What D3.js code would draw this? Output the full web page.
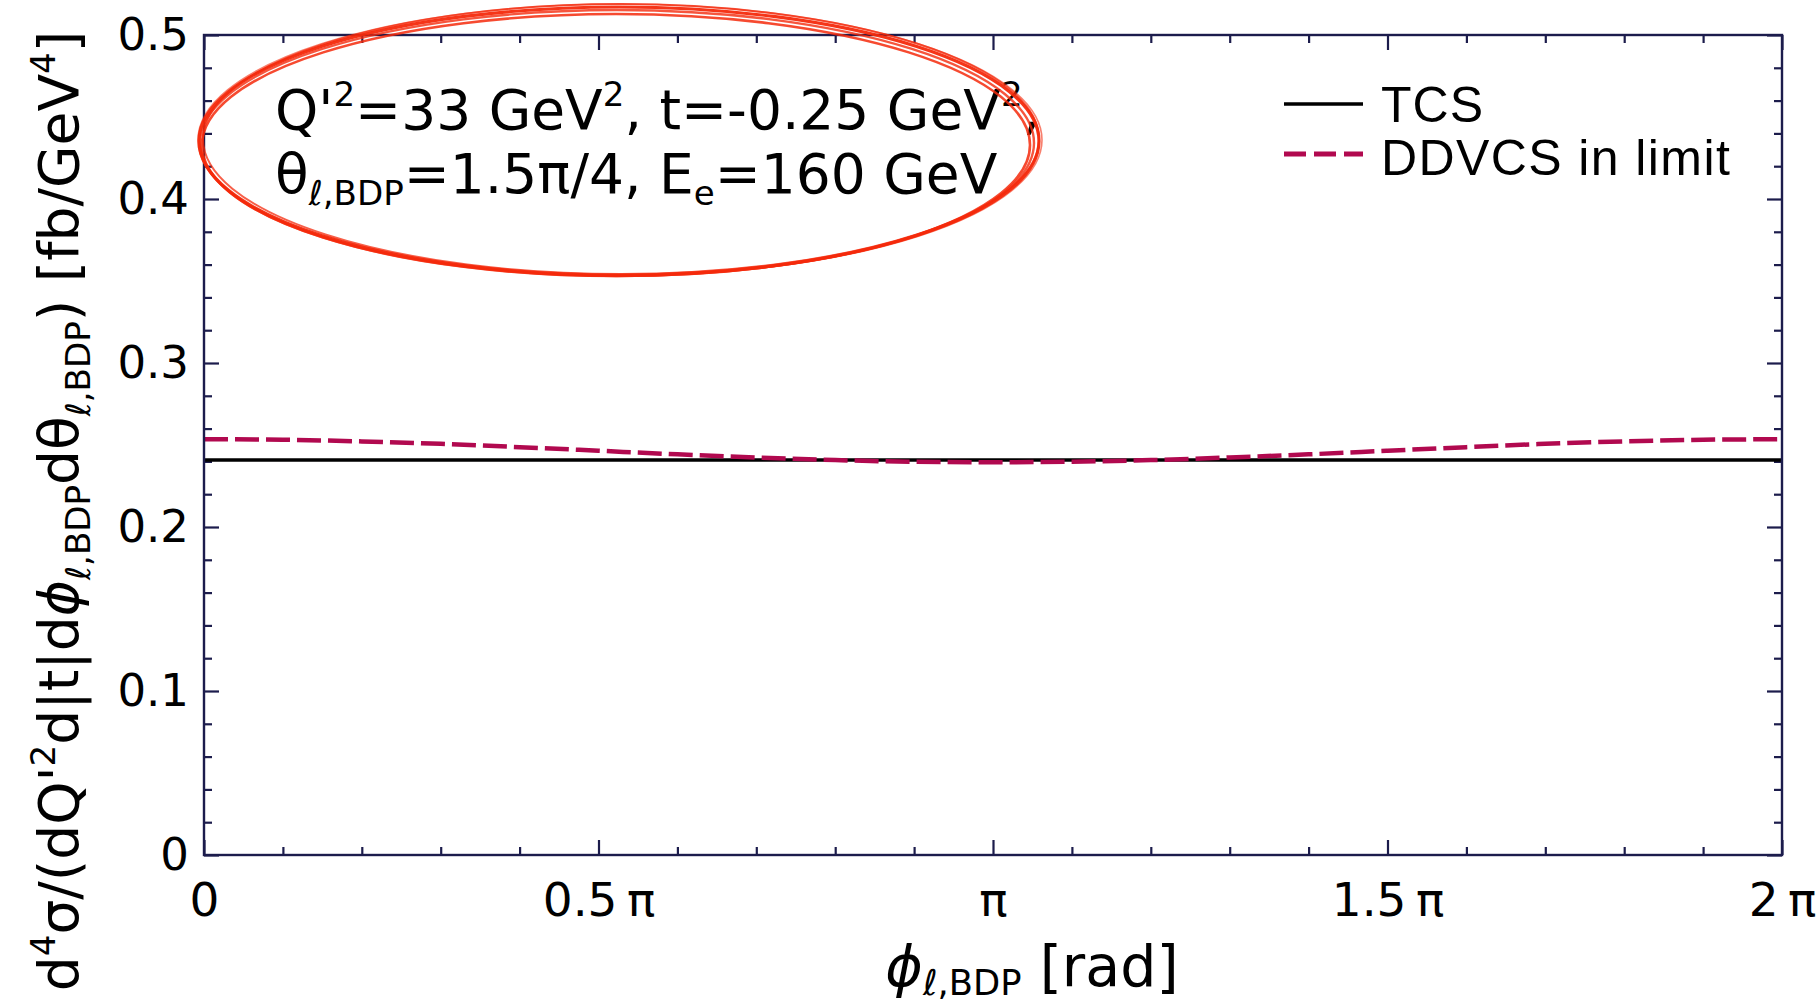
<!DOCTYPE html>
<html>
<head>
<meta charset="utf-8">
<script src="https://cdn.jsdelivr.net/npm/d3@7"></script>
<style>
  body { margin: 0; background: #ffffff; }
  svg { display: block; }
</style>
</head>
<body>
<svg id="chart" width="1817" height="1008"></svg>
<script>
// φ grid in units of π
const phiUnits = [0, 0.1, 0.2, 0.3, 0.4, 0.5, 0.6, 0.7, 0.8, 0.9, 1.0,
                  1.1, 1.2, 1.3, 1.4, 1.5, 1.6, 1.7, 1.8, 1.9, 2.0];
// TCS cross section [fb/GeV^4]
const tcsValues = [0.2408, 0.2408, 0.2408, 0.2408, 0.2408, 0.2408, 0.2408,
                   0.2408, 0.2408, 0.2408, 0.2408, 0.2408, 0.2408, 0.2408,
                   0.2408, 0.2408, 0.2408, 0.2408, 0.2408, 0.2408, 0.2408];
// DDVCS in the TCS limit [fb/GeV^4]
const ddvcsValues = [0.2535, 0.2532, 0.2522, 0.2507, 0.2487, 0.2465, 0.2443,
                     0.2424, 0.2408, 0.2398, 0.2395, 0.2398, 0.2408, 0.2424,
                     0.2443, 0.2465, 0.2487, 0.2507, 0.2522, 0.2532, 0.2535];

const xMajorTicks = [0, 0.5, 1, 1.5, 2];
const xTickLabels = ["0", "0.5\u2009\u03c0", "\u03c0", "1.5\u2009\u03c0", "2\u2009\u03c0"];
const xMinorTicks = [0.1, 0.2, 0.3, 0.4, 0.6, 0.7, 0.8, 0.9, 1.1, 1.2, 1.3, 1.4, 1.6, 1.7, 1.8, 1.9];
const yMajorTicks = [0, 0.1, 0.2, 0.3, 0.4, 0.5];
const yTickLabels = ["0", "0.1", "0.2", "0.3", "0.4", "0.5"];
const yMinorTicks = [0.02, 0.04, 0.06, 0.08, 0.12, 0.14, 0.16, 0.18, 0.22, 0.24, 0.26, 0.28,
                     0.32, 0.34, 0.36, 0.38, 0.42, 0.44, 0.46, 0.48];

const seriesNames = ["TCS", "DDVCS in limit"];

const svg = d3.select("#chart");
const plot = { left: 204, right: 1782, top: 35, bottom: 855 };

const frameColor = "#1c1c4c";
const ddvcsColor = "#b1094f";
const axisFont = "'DejaVu Sans', Verdana, sans-serif";

const x = d3.scaleLinear().domain([0, 2]).range([plot.left, plot.right]);
const y = d3.scaleLinear().domain([0, 0.5]).range([plot.bottom, plot.top]);

// ---- ticks (all pointing inward, mirrored on all four sides)
function styleAxis(g) {
  g.select(".domain").remove();
  g.selectAll(".tick line").attr("stroke", frameColor).attr("stroke-width", 2.2);
}
const majorLen = 15, minorLen = 8;

svg.append("g").attr("transform", `translate(0,${plot.bottom})`)
  .call(d3.axisBottom(x).tickValues(xMajorTicks).tickSizeInner(-majorLen).tickSizeOuter(0)
    .tickPadding(28).tickFormat((d, i) => xTickLabels[i]))
  .call(styleAxis)
  .call(g => g.selectAll("text").attr("font-family", axisFont).attr("font-size", 47).attr("fill", "#000"));
svg.append("g").attr("transform", `translate(0,${plot.bottom})`)
  .call(d3.axisBottom(x).tickValues(xMinorTicks).tickSizeInner(-minorLen).tickSizeOuter(0).tickFormat(""))
  .call(styleAxis);
svg.append("g").attr("transform", `translate(0,${plot.top})`)
  .call(d3.axisTop(x).tickValues(xMajorTicks).tickSizeInner(-majorLen).tickSizeOuter(0).tickFormat(""))
  .call(styleAxis);
svg.append("g").attr("transform", `translate(0,${plot.top})`)
  .call(d3.axisTop(x).tickValues(xMinorTicks).tickSizeInner(-minorLen).tickSizeOuter(0).tickFormat(""))
  .call(styleAxis);

svg.append("g").attr("transform", `translate(${plot.left},0)`)
  .call(d3.axisLeft(y).tickValues(yMajorTicks).tickSizeInner(-majorLen).tickSizeOuter(0)
    .tickPadding(15).tickFormat((d, i) => yTickLabels[i]))
  .call(styleAxis)
  .call(g => g.selectAll("text").attr("font-family", axisFont).attr("font-size", 45).attr("fill", "#000"));
svg.append("g").attr("transform", `translate(${plot.left},0)`)
  .call(d3.axisLeft(y).tickValues(yMinorTicks).tickSizeInner(-minorLen).tickSizeOuter(0).tickFormat(""))
  .call(styleAxis);
svg.append("g").attr("transform", `translate(${plot.right},0)`)
  .call(d3.axisRight(y).tickValues(yMajorTicks).tickSizeInner(-majorLen).tickSizeOuter(0).tickFormat(""))
  .call(styleAxis);
svg.append("g").attr("transform", `translate(${plot.right},0)`)
  .call(d3.axisRight(y).tickValues(yMinorTicks).tickSizeInner(-minorLen).tickSizeOuter(0).tickFormat(""))
  .call(styleAxis);

// ---- curves
const line = d3.line().curve(d3.curveMonotoneX);
const tcsPts = phiUnits.map((p, i) => [x(p), y(tcsValues[i])]);
const ddvcsPts = phiUnits.map((p, i) => [x(p), y(ddvcsValues[i])]);

svg.append("path").attr("d", line(tcsPts))
  .attr("fill", "none").attr("stroke", "#000").attr("stroke-width", 3.5);
svg.append("path").attr("d", line(ddvcsPts))
  .attr("fill", "none").attr("stroke", ddvcsColor).attr("stroke-width", 4.5)
  .attr("stroke-dasharray", "24 7");

// ---- frame
svg.append("rect")
  .attr("x", plot.left).attr("y", plot.top)
  .attr("width", plot.right - plot.left).attr("height", plot.bottom - plot.top)
  .attr("fill", "none").attr("stroke", frameColor).attr("stroke-width", 2.4);

// ---- legend
const legend = svg.append("g").attr("font-family", "'Liberation Sans', Arial, sans-serif")
  .attr("font-size", 50);
const legendRows = [
  { name: seriesNames[0], ly: 104, ty: 122, color: "#000", dash: null, w: 3.5, ls: 1 },
  { name: seriesNames[1], ly: 154, ty: 175, color: ddvcsColor, dash: "22 8", w: 5, ls: 1.4 }
];
legendRows.forEach(r => {
  legend.append("line").attr("x1", 1284).attr("x2", 1363).attr("y1", r.ly).attr("y2", r.ly)
    .attr("stroke", r.color).attr("stroke-width", r.w)
    .attr("stroke-dasharray", r.dash);
  legend.append("text").attr("x", 1381).attr("y", r.ty).attr("fill", "#000")
    .attr("letter-spacing", r.ls).text(r.name);
});

// ---- rich text helper (super/subscripts, italics)
function richText(parent, xPos, yPos, size, parts, attrs, subShift) {
  const t = parent.append("text").attr("x", xPos).attr("y", yPos)
    .attr("font-family", axisFont).attr("font-size", size).attr("fill", "#000");
  if (attrs) Object.entries(attrs).forEach(([k, v]) => t.attr(k, v));
  const sub = subShift === undefined ? 0.22 : subShift;
  let shift = 0;
  parts.forEach(p => {
    const kind = p[1] || "n";
    let target = 0, fs = size, style = null;
    if (kind === "sup") { target = -0.42 * size; fs = 0.62 * size; }
    if (kind === "sub") { target = sub * size; fs = 0.62 * size; }
    if (kind === "it") { style = "italic"; }
    const ts = t.append("tspan").attr("font-size", fs).attr("dy", target - shift).text(p[0]);
    if (style) ts.attr("font-style", style);
    shift = target;
  });
  return t;
}

// ---- kinematics note
const note = svg.append("g");
richText(note, 275, 129, 55, [["Q'"], ["2", "sup"], ["=33 GeV"], ["2", "sup"], [", t=-0.25 GeV"], ["2", "sup"], [","]]);
richText(note, 275, 193, 55, [["\u03b8"], ["\u2113,BDP", "sub"], ["=1.5\u03c0/4, E"], ["e", "sub"], ["=160 GeV"]]);

// hand-drawn style marker ellipse around the note
const ringPasses = [
  { cx: 619, cy: 141, rx: 420, ry: 134, w: 3.2, o: 0.95 },
  { cx: 617, cy: 143, rx: 417, ry: 133, w: 2.4, o: 0.8 },
  { cx: 621, cy: 139, rx: 418, ry: 135, w: 2.0, o: 0.75 },
  { cx: 616, cy: 145, rx: 414, ry: 131, w: 2.6, o: 0.85 },
  { cx: 620, cy: 140, rx: 422, ry: 136, w: 1.6, o: 0.6 }
];
ringPasses.forEach(r => {
  svg.append("ellipse").attr("cx", r.cx).attr("cy", r.cy).attr("rx", r.rx).attr("ry", r.ry)
    .attr("fill", "none").attr("stroke", "#f42a0c").attr("stroke-width", r.w)
    .attr("stroke-opacity", r.o);
});

// ---- axis titles
richText(svg, 1032, 986, 57, [["\u03d5", "it"], ["\u2113,BDP", "sub"], [" [rad]"]], { "text-anchor": "middle" }, 0.16);

richText(svg, 0, 0, 55,
  [["d"], ["4", "sup"], ["\u03c3/(dQ'"], ["2", "sup"], ["d|t|d"], ["\u03d5", "it"], ["\u2113,BDP", "sub"],
   ["d\u03b8"], ["\u2113,BDP", "sub"], [") [fb/GeV"], ["4", "sup"], ["]"]],
  { "text-anchor": "middle", "transform": "translate(78,511) rotate(-90)" });
</script>
</body>
</html>
